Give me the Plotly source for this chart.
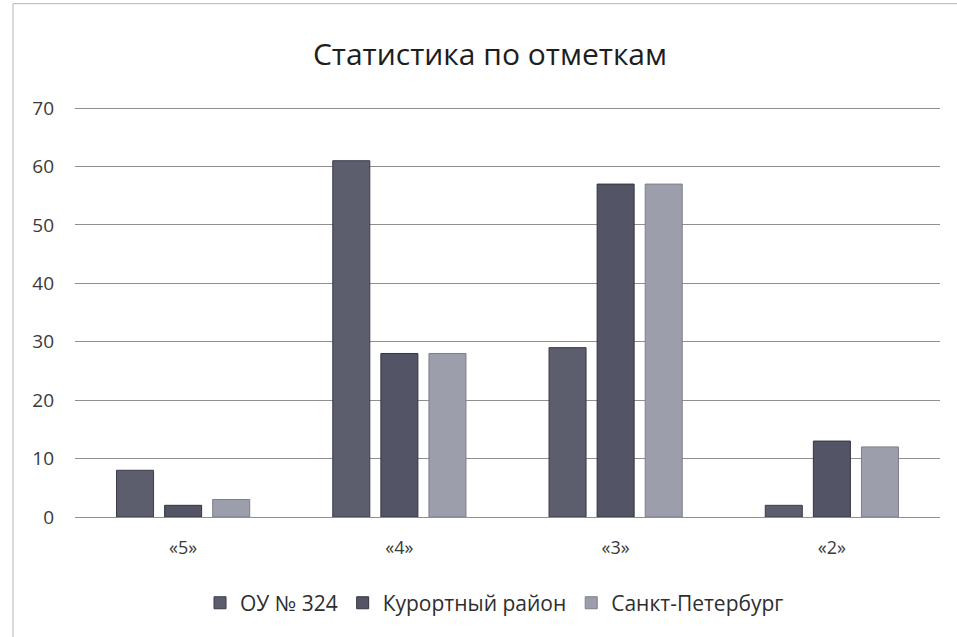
import plotly.graph_objects as go

categories = ["«5»", "«4»", "«3»", "«2»"]
series_names = ["ОУ № 324", "Курортный район", "Санкт-Петербург"]
ou_324 = [8, 61, 29, 2]
kurortny = [2, 28, 57, 13]
spb = [3, 28, 57, 12]
y_ticks = [0, 10, 20, 30, 40, 50, 60, 70]

colors = ["#5c5e6e", "#535566", "#9d9eab"]
edges = ["#3a3b48", "#33343f", "#7d7e8a"]

fig = go.Figure()
for name, vals, c, e in zip(series_names, [ou_324, kurortny, spb], colors, edges):
    fig.add_trace(go.Bar(x=categories, y=vals, name=name,
                         marker=dict(color=c, line=dict(color=e, width=1))))

fig.update_layout(
    width=957, height=637,
    paper_bgcolor="white", plot_bgcolor="white",
    margin=dict(l=75, r=17, t=107, b=120),
    barmode="group", bargap=0.333, bargroupgap=0.23,
    title=dict(text="Статистика по отметкам", x=0.512, xanchor="center",
               y=0.914, yanchor="middle",
               font=dict(family="Open Sans", size=30, color="#1e1e1e")),
    font=dict(family="Open Sans", color="#333"),
    xaxis=dict(showgrid=False, showline=False, ticks="",
               tickfont=dict(size=18, color="#3a3a3a"), ticklabelstandoff=18),
    yaxis=dict(range=[0, 70.2], tickvals=y_ticks, showgrid=True,
               gridcolor="#8f8f8f", gridwidth=1, zeroline=True,
               zerolinecolor="#8f8f8f", zerolinewidth=1,
               tickfont=dict(size=19, color="#3a3a3a"), ticklabelstandoff=20),
    legend=dict(orientation="h", x=0.485, xanchor="center", y=-0.21,
                yanchor="middle", font=dict(size=21, color="#2e2e2e"),
                itemwidth=30, traceorder="normal"),
    shapes=[dict(type="rect", xref="paper", yref="paper",
                 x0=-0.0717, x1=1.05, y0=-0.35, y1=1.252,
                 line=dict(color="#b5b5b5", width=1))],
)

fig.write_html("out.html", config={"displayModeBar": False},
               post_script="document.body.style.margin='0';")
